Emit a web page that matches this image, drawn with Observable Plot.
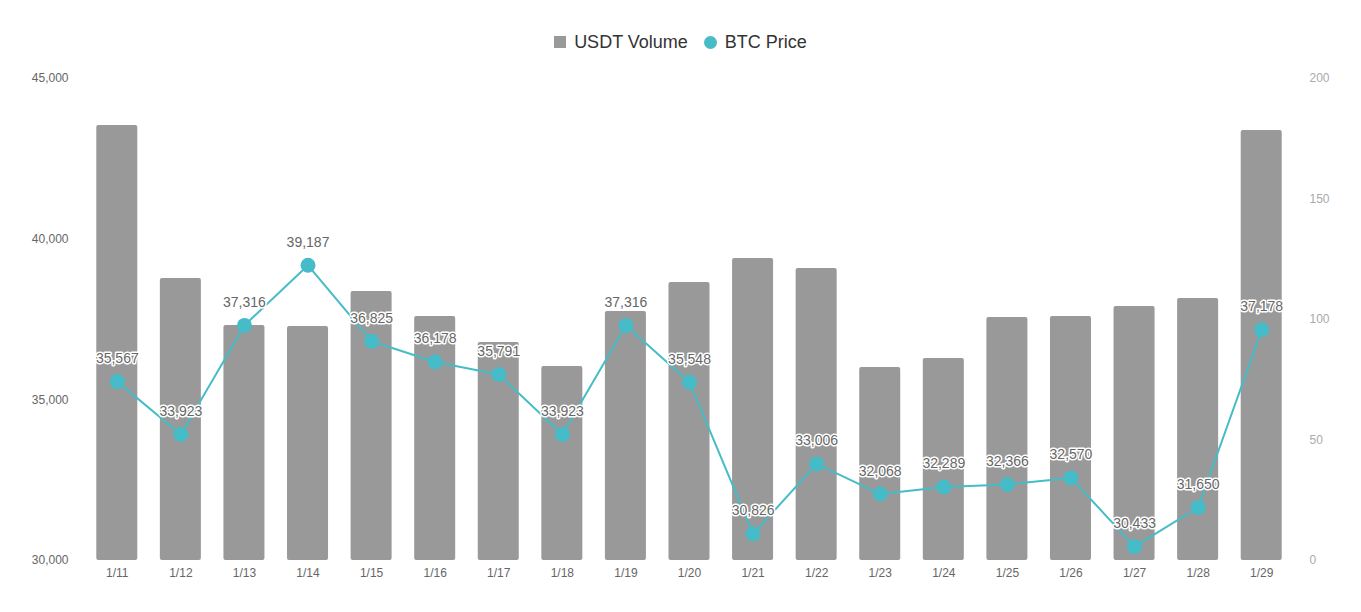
<!DOCTYPE html>
<html>
<head>
<meta charset="utf-8">
<script src="https://cdn.jsdelivr.net/npm/d3@7"></script>
<script src="https://cdn.jsdelivr.net/npm/@observablehq/plot@0.6"></script>
<style>
  html, body { margin: 0; padding: 0; background: #fff; }
  body { width: 1361px; height: 612px; overflow: hidden; font-family: "Liberation Sans", Arial, sans-serif; }
  #legend { height: 60px; box-sizing: border-box; padding-top: 30px; display: flex; justify-content: center; align-items: flex-start; line-height: 24px; font-size: 18px; color: #333; }
  #legend .item { display: flex; align-items: center; margin: 0 8px; height: 24px; }
  #legend .sw { width: 12px; height: 12px; margin-right: 8px; }
  #chart svg { display: block; }
</style>
</head>
<body>
<div id="legend">
  <div class="item"><span class="sw" style="background:#999999"></span>USDT Volume</div>
  <div class="item"><span class="sw" style="background:#45bcc7;border-radius:50%;width:13px;height:13px"></span>BTC Price</div>
</div>
<div id="chart"></div>
<script>
const dates = ["1/11","1/12","1/13","1/14","1/15","1/16","1/17","1/18","1/19","1/20","1/21","1/22","1/23","1/24","1/25","1/26","1/27","1/28","1/29"];
const volume = [180.5,117.0,97.5,97.1,111.6,101.2,90.5,80.5,103.3,115.4,125.3,121.2,80.1,83.8,100.8,101.2,105.4,108.7,178.4];
const price = [35567,33923,37316,39187,36825,36178,35791,33923,37316,35548,30826,33006,32068,32289,32366,32570,30433,31650,37178];
const priceTicks = [30000,35000,40000,45000];
const volumeTicks = [0,50,100,150,200];

const priceMin = 30000, priceMax = 45000, volMax = 200;
const toPrice = v => priceMin + v * (priceMax - priceMin) / volMax;
const toVol = p => Math.round((p - priceMin) * volMax / (priceMax - priceMin));

const data = dates.map((d, i) => ({date: d, volume: volume[i], price: price[i]}));
const fmt = d3.format(",");

const chart = Plot.plot({
  width: 1361,
  height: 552,
  marginTop: 18,
  marginBottom: 52,
  marginLeft: 85,
  marginRight: 68,
  style: {fontSize: "12px", fontFamily: "'Liberation Sans', Arial, sans-serif", background: "white"},
  x: {domain: dates, paddingInner: 0.355, paddingOuter: 0.1775, round: false, label: null},
  y: {domain: [priceMin, priceMax], label: null},
  marks: [
    Plot.barY(data, {x: "date", y1: () => priceMin, y2: d => toPrice(d.volume), fill: "#999999", rx: 2}),
    Plot.axisY({ticks: priceTicks, tickFormat: d => fmt(d), tickSize: 0, tickPadding: 17, color: "#666", label: null}),
    Plot.axisY({anchor: "right", ticks: volumeTicks.map(toPrice), tickFormat: p => String(toVol(p)), tickSize: 0, tickPadding: 16, color: "#aaa", label: null}),
    Plot.axisX({tickSize: 0, tickPadding: 8, color: "#666", label: null}),
    Plot.line(data, {x: "date", y: "price", stroke: "#45bcc7", strokeWidth: 2}),
    Plot.dot(data, {x: "date", y: "price", r: 7.5, fill: "#45bcc7"}),
    Plot.text(data, {x: "date", y: "price", text: d => fmt(d.price), dy: -23, fill: "#666", stroke: "white", strokeWidth: 3, fontSize: 14})
  ]
});
document.getElementById("chart").appendChild(chart);
</script>
</body>
</html>
